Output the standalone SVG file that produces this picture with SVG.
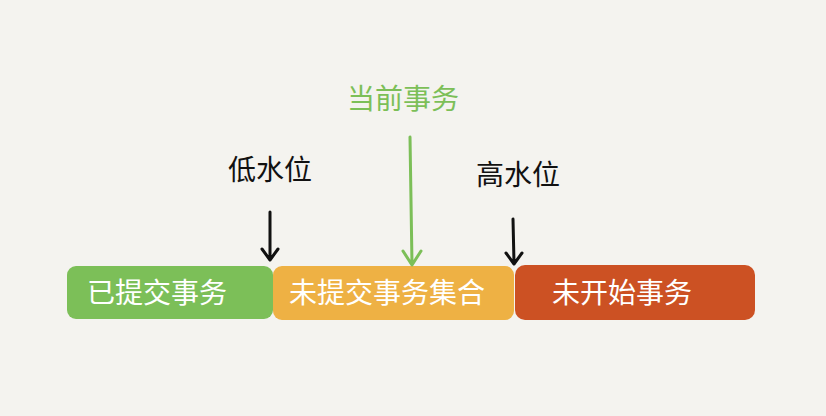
<svg xmlns="http://www.w3.org/2000/svg" width="826" height="416" viewBox="0 0 826 416">
<style>
.t{font-family:"Noto Sans CJK SC","Noto Sans",sans-serif;font-size:28px;text-anchor:middle}
.w{fill:#ffffff}
.k{fill:#111111}
.g{fill:#7cbf58}
.ln{fill:none;stroke-width:3;stroke-linecap:round;stroke-linejoin:round}
</style>
<rect width="826" height="416" fill="#f4f3ef"/>
<g id="committed">
<rect x="67" y="266" width="206" height="53" rx="9" fill="#7cbf58"/>
<text class="t w" x="157" y="303">已提交事务</text>
</g>
<g id="uncommitted">
<rect x="273" y="266" width="241" height="54" rx="9" fill="#eeb144"/>
<text class="t w" x="387" y="303">未提交事务集合</text>
</g>
<g id="notstarted">
<rect x="515" y="265" width="240" height="55" rx="10" fill="#cc5123"/>
<text class="t w" x="622" y="303">未开始事务</text>
</g>
<g id="low">
<text class="t k" x="270" y="180">低水位</text>
</g>
<g id="current">
<text class="t g" x="403" y="109">当前事务</text>
</g>
<g id="high">
<text class="t k" x="518" y="185">高水位</text>
</g>
<g id="connectors">
<path class="ln" stroke="#111" d="M270 212 L270 259 M262 249 L270 260 L278 249"/>
<path class="ln" stroke="#7cbf58" d="M410 137 L412 264 M403 251 L412 265 L421 251"/>
<path class="ln" stroke="#111" d="M513 219 L514 263 M506 253 L514 264 L522 253"/>
</g>
</svg>
